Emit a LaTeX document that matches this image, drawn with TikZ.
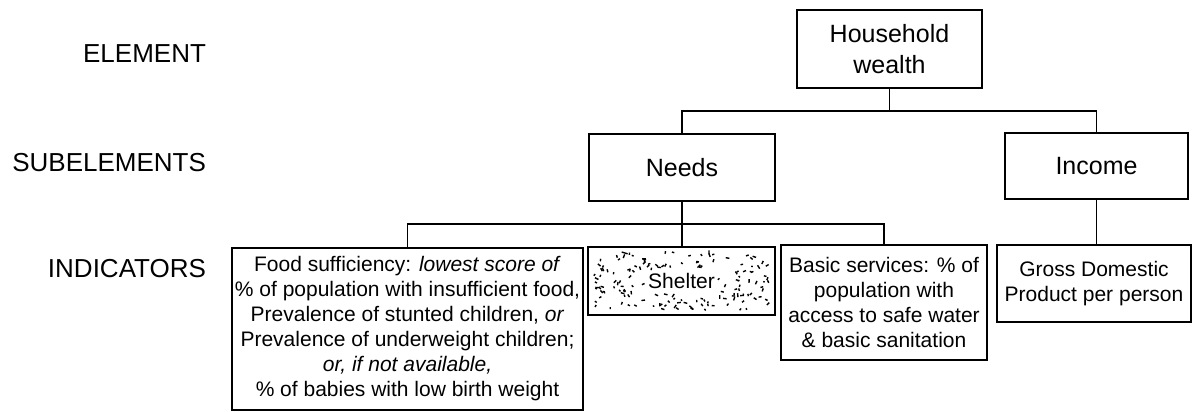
\documentclass[tikz,border=0pt]{standalone}
\usepackage{fontspec}
\setmainfont{Liberation Sans}
\usepackage{tikz}
\usetikzlibrary{positioning}

\tikzset{
  box/.style={draw, line width=0.8pt, align=center, inner sep=0pt},
  bigtxt/.style={font=\fontsize{12.5}{15.5}\selectfont},
  smalltxt/.style={font=\fontsize{10.5}{12.5}\selectfont},
  lvl/.style={anchor=east, font=\fontsize{13}{15}\selectfont},
  link/.style={line width=0.8pt}
}

\begin{document}
\begin{tikzpicture}[x=0.5pt, y=-0.5pt]
  \useasboundingbox (0,0) rectangle (1194,412);

  % level names
  \node[lvl] (lblelem) at (213,54) {ELEMENT};
  \node[lvl] (lblsub) at (213,163) {SUBELEMENTS};
  \node[lvl] (lblind) at (213,269) {INDICATORS};

  % speckles of the shelter box, kept off the word
  \begin{scope}[line width=0.7pt]
    \pgfmathsetseed{23}
    \foreach \k in {1,...,190}{
      \pgfmathsetmacro\sx{593+176*rnd}
      \pgfmathsetmacro\sy{252+58*rnd}
      \pgfmathtruncatemacro\keep{(abs(\sx-682)<37 && abs(\sy-281)<13) ? 0 : 1}
      \ifnum\keep=1 \draw (\sx,\sy) -- ++({360*rnd}:{1.5+2.5*rnd}); \fi
    }
  \end{scope}

  \node[box, bigtxt, minimum width=92.5pt, minimum height=39pt] (house) at (889.5,49) {Household\\wealth};
  \node[box, bigtxt, minimum width=93pt, minimum height=33.5pt] (needs) at (682,167.5) {Needs};
  \node[box, bigtxt, minimum width=91.5pt, minimum height=33pt] (income) at (1096.5,166) {Income};

  \node[box, smalltxt, minimum width=175.5pt, minimum height=81pt] (food) at (407.5,329)
    {Food sufficiency: \textit{lowest score of}\\
     \% of population with insufficient food,\\
     Prevalence of stunted children, \textit{or}\\
     Prevalence of underweight children;\\
     \textit{or, if not available,}\\
     \% of babies with low birth weight};
  \node[box, smalltxt, line width=1.2pt, minimum width=93.5pt, minimum height=34pt] (shelter) at (681.5,281) {Shelter};
  \node[box, smalltxt, minimum width=103pt, minimum height=57.5pt] (basic) at (884,302.5)
    {Basic services: \% of\\population with\\access to safe water\\\& basic sanitation};
  \node[box, smalltxt, minimum width=97pt, minimum height=38.5pt] (gdp) at (1094,283.5)
    {Gross Domestic\\Product per person};

  \draw[link] (house.south) -- ++(0,22) -| (needs.north);
  \draw[link] (house.south) -- ++(0,22) -| (income.north);
  \draw[link] (income.south) -- (income.south |- gdp.north);

  \draw[link] (needs.south) -- ++(0,22) -| (food.north);
  \draw[link] (needs.south) -- (needs.south |- shelter.north);
  \draw[link] (needs.south) -- ++(0,22) -| (basic.north);
\end{tikzpicture}
\end{document}
